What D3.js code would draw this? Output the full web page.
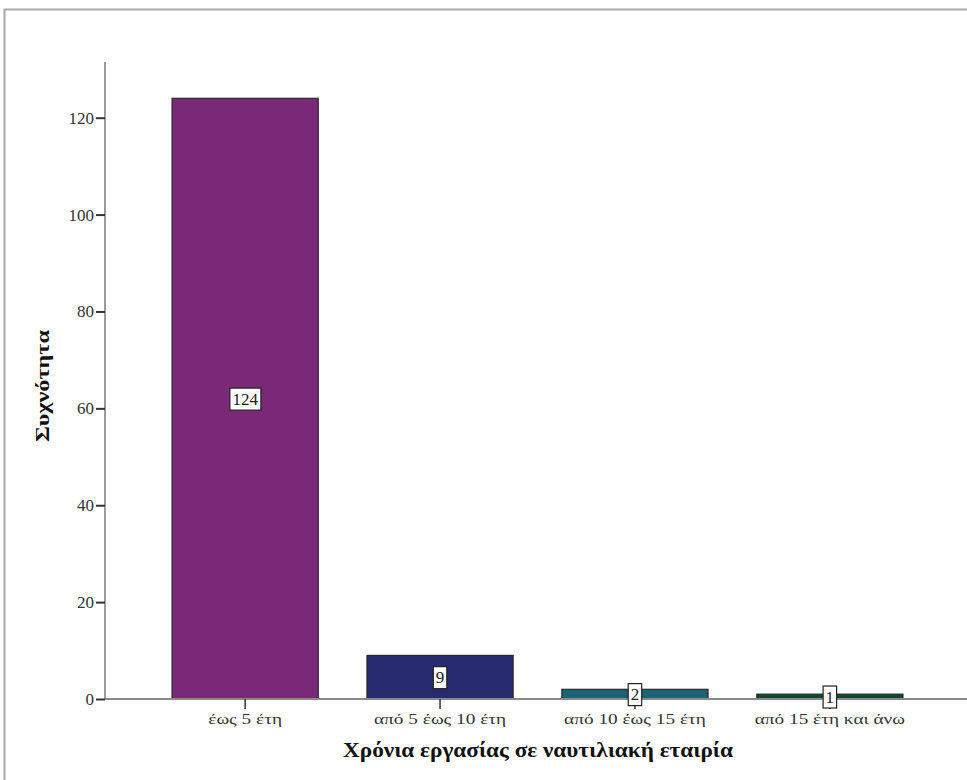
<!DOCTYPE html>
<html>
<head>
<meta charset="utf-8">
<script src="https://cdn.jsdelivr.net/npm/d3@7"></script>
<style>
  html, body { margin: 0; padding: 0; background: #fff; }
  svg { display: block; }
</style>
</head>
<body>
<script>
// Frequency of years worked at a shipping company
const categories = ["έως 5 έτη", "από 5 έως 10 έτη", "από 10 έως 15 έτη", "από 15 έτη και άνω"];
const counts = [124, 9, 2, 1];
const barColors = ["#7a2878", "#272a6e", "#1c6276", "#0c4a2b"];
const yTicks = [0, 20, 40, 60, 80, 100, 120];
const xTitle = "Χρόνια εργασίας σε ναυτιλιακή εταιρία";
const yTitle = "Συχνότητα";

const W = 967, H = 780;
const svg = d3.select("body").append("svg").attr("width", W).attr("height", H);

// outer frame (open on the right and bottom)
svg.append("path")
  .attr("d", "M4.5,780 V9.5 H967")
  .attr("fill", "none").attr("stroke", "#a8a8a8").attr("stroke-width", 2);

const x0 = 105, y0 = 699;
const x = d3.scaleBand().domain(categories).range([x0, 970])
  .paddingInner(0.25).paddingOuter(0.344);
const y = d3.scaleLinear().domain([0, 120]).range([y0, 117.7]);

const serif = "'Liberation Serif', 'Times New Roman', serif";

// widen a text element horizontally by a factor
function stretch(sel, k) {
  sel.each(function () {
    const w = this.getComputedTextLength();
    d3.select(this).attr("textLength", w * k).attr("lengthAdjust", "spacingAndGlyphs");
  });
}

// bars
svg.append("g").selectAll("rect").data(counts).join("rect")
  .attr("x", (d, i) => x(categories[i]))
  .attr("y", d => y(d))
  .attr("width", x.bandwidth())
  .attr("height", d => y0 - y(d))
  .attr("fill", (d, i) => barColors[i])
  .attr("stroke", "#2a2a2a").attr("stroke-width", 1.2);

// y axis
const yAxis = svg.append("g").attr("transform", `translate(${x0},0)`)
  .call(d3.axisLeft(y).tickValues(yTicks).tickSize(9).tickPadding(2));
yAxis.select(".domain").attr("d", `M0,62 V${y0}`).attr("stroke", "#9a9a9a").attr("stroke-width", 2);
yAxis.selectAll(".tick line").attr("stroke", "#333").attr("stroke-width", 2);
yAxis.selectAll(".tick text").attr("font-family", serif).attr("font-size", 17).attr("fill", "#333");

// x axis
const xAxis = svg.append("g").attr("transform", `translate(0,${y0})`)
  .call(d3.axisBottom(x).tickSize(10).tickPadding(5));
xAxis.select(".domain").attr("d", `M${x0},0 H${W}`).attr("stroke", "#8a8a8a").attr("stroke-width", 2);
xAxis.selectAll(".tick line").attr("stroke", "#333").attr("stroke-width", 1.5);
xAxis.selectAll(".tick text").attr("font-family", serif).attr("font-size", 14.5).attr("fill", "#333")
  .call(stretch, 1.33);

// value labels in boxes at bar centers
const labels = svg.append("g").selectAll("g").data(counts).join("g")
  .attr("transform", (d, i) => `translate(${x(categories[i]) + x.bandwidth() / 2},${(y(d) + y0) / 2})`);
labels.append("text")
  .attr("text-anchor", "middle").attr("dy", "0.35em")
  .attr("font-family", serif).attr("font-size", 17).attr("fill", "#222")
  .text(d => d);
labels.each(function () {
  const g = d3.select(this);
  const bb = g.select("text").node().getBBox();
  g.insert("rect", "text")
    .attr("x", bb.x - 2.5).attr("y", bb.y - 1.5)
    .attr("width", bb.width + 5).attr("height", bb.height + 3)
    .attr("fill", "#fff").attr("stroke", "#222").attr("stroke-width", 1.2);
});

// axis titles
svg.append("text")
  .attr("x", 538).attr("y", 757).attr("text-anchor", "middle")
  .attr("font-family", serif).attr("font-weight", "bold").attr("font-size", 20).attr("fill", "#111")
  .attr("textLength", 390).attr("lengthAdjust", "spacingAndGlyphs")
  .text(xTitle);
svg.append("text")
  .attr("transform", "translate(49,386) rotate(-90)").attr("text-anchor", "middle")
  .attr("font-family", serif).attr("font-weight", "bold").attr("font-size", 19).attr("fill", "#111")
  .attr("textLength", 112).attr("lengthAdjust", "spacingAndGlyphs")
  .text(yTitle);
</script>
</body>
</html>
